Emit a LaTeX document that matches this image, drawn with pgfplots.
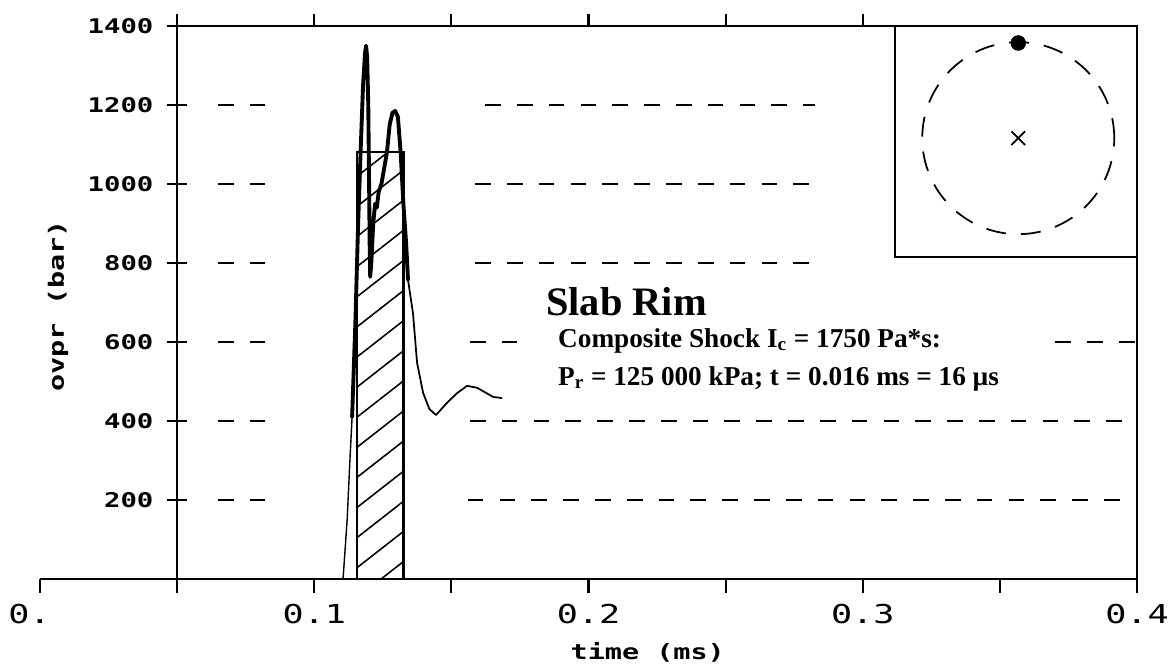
\documentclass[border=0pt]{standalone}
\usepackage{fontspec}
\setmainfont{Liberation Serif}
\newfontfamily\dotfont[FakeStretch=1.35]{DejaVu Sans Mono}
\usepackage{pgfplots}
\pgfplotsset{compat=1.18}
\usetikzlibrary{patterns.meta}

% 1 px of the reference = 0.02cm
\begin{document}
\begin{tikzpicture}
\useasboundingbox (-0.8,-1.74) rectangle (22.7,11.58);

% bottom time axis, 0 .. 0.4
\begin{axis}[
  at={(0,0)}, anchor=south west, scale only axis,
  width=21.94cm, height=11.06cm,
  xmin=0, xmax=0.4, ymin=0, ymax=1400,
  axis x line*=bottom, axis y line=none,
  axis line style={-, line width=1.5pt},
  xtick={0,0.05,0.1,0.15,0.2,0.25,0.3,0.35,0.4},
  xticklabels={0.\phantom{0},,0.1,,0.2,,0.3,,0.4},
  tick align=outside, major tick length=0.28cm,
  tick style={line width=1.2pt, black},
  xticklabel style={font=\dotfont\fontsize{14.8}{15}\selectfont, yshift=-0.1cm},
  xlabel={time (ms)},
  xlabel style={font=\dotfont\bfseries\fontsize{12}{12}\selectfont,
    at={(axis description cs:0.554,0)}, anchor=center, yshift=-1.46cm},
]
\end{axis}

% top ticks
\begin{axis}[
  at={(2.7425cm,0)}, anchor=south west, scale only axis,
  width=19.1975cm, height=11.06cm,
  xmin=0.05, xmax=0.4, ymin=0, ymax=1400,
  axis x line*=top, axis y line=none,
  axis line style={-, line width=1.5pt},
  xtick={0.05,0.1,0.15,0.2,0.25,0.3}, xticklabels={},
  tick align=outside, major tick length=0.24cm,
  tick style={line width=1.2pt, black},
]
\end{axis}

% frame, pressure axis and data
\begin{axis}[
  at={(2.7425cm,0)}, anchor=south west, scale only axis,
  width=19.1975cm, height=11.06cm,
  xmin=0.05, xmax=0.4, ymin=0, ymax=1400,
  clip=false,
  axis line style={line width=1.5pt},
  xtick=\empty,
  ytick={200,400,600,800,1000,1200,1400}, ytick pos=left,
  major tick length=0pt,
  yticklabel style={font=\dotfont\bfseries\fontsize{11.5}{12}\selectfont, anchor=east, xshift=-0.35cm,
    /pgf/number format/1000 sep={}, /pgf/number format/assume math mode=true},
  ylabel={ovpr (bar)},
  ylabel style={font=\dotfont\bfseries\fontsize{12}{12}\selectfont,
    at={(axis description cs:-0.124,0.494)}, anchor=center},
]
% crossing tick marks on the pressure axis
\draw[line width=1.2pt] ([xshift=-0.2cm]axis cs:0.05,200) -- ([xshift=0.2cm]axis cs:0.05,200);
\draw[line width=1.2pt] ([xshift=-0.2cm]axis cs:0.05,400) -- ([xshift=0.2cm]axis cs:0.05,400);
\draw[line width=1.2pt] ([xshift=-0.2cm]axis cs:0.05,600) -- ([xshift=0.2cm]axis cs:0.05,600);
\draw[line width=1.2pt] ([xshift=-0.2cm]axis cs:0.05,800) -- ([xshift=0.2cm]axis cs:0.05,800);
\draw[line width=1.2pt] ([xshift=-0.2cm]axis cs:0.05,1000) -- ([xshift=0.2cm]axis cs:0.05,1000);
\draw[line width=1.2pt] ([xshift=-0.2cm]axis cs:0.05,1200) -- ([xshift=0.2cm]axis cs:0.05,1200);
\draw[line width=1.2pt] ([xshift=-0.2cm]axis cs:0.05,1400) -- ([xshift=0.2cm]axis cs:0.05,1400);

% dashed level lines
\addplot[black, line width=1.3pt, dash pattern=on 8.9pt off 9.2pt] coordinates {(0.0649,1200)(0.0839,1200)};
\addplot[black, line width=1.3pt, dash pattern=on 8.9pt off 9.2pt] coordinates {(0.0649,1000)(0.0839,1000)};
\addplot[black, line width=1.3pt, dash pattern=on 8.9pt off 9.2pt] coordinates {(0.0649,800)(0.0839,800)};
\addplot[black, line width=1.3pt, dash pattern=on 8.9pt off 9.2pt] coordinates {(0.0649,600)(0.0839,600)};
\addplot[black, line width=1.3pt, dash pattern=on 8.9pt off 9.2pt] coordinates {(0.0649,400)(0.0839,400)};
\addplot[black, line width=1.3pt, dash pattern=on 8.9pt off 9.2pt] coordinates {(0.0649,200)(0.0839,200)};
\addplot[black, line width=1.3pt, dash pattern=on 8.9pt off 9.2pt] coordinates {(0.1623,1200)(0.2826,1200)};
\addplot[black, line width=1.3pt, dash pattern=on 8.9pt off 9.2pt] coordinates {(0.1587,1000)(0.2826,1000)};
\addplot[black, line width=1.3pt, dash pattern=on 8.9pt off 9.2pt] coordinates {(0.1587,800)(0.2815,800)};
\addplot[black, line width=1.3pt, dash pattern=on 8.9pt off 9.2pt] coordinates {(0.1568,600)(0.1787,600)};
\addplot[black, line width=1.3pt, dash pattern=on 8.9pt off 9.2pt] coordinates {(0.3702,600)(0.4,600)};
\addplot[black, line width=1.3pt, dash pattern=on 8.9pt off 9.2pt] coordinates {(0.1568,400)(0.4,400)};
\addplot[black, line width=1.3pt, dash pattern=on 8.9pt off 9.2pt] coordinates {(0.1560,200)(0.4,200)};

% composite pulse
\addplot[black, line width=1.4pt, pattern={Lines[angle=38,distance=13.5pt,line width=0.9pt]}]
  coordinates {(0.1156,0)(0.1156,1081)(0.1325,1081)(0.1325,0)} \closedcycle;

% measured overpressure
\addplot[black, line width=0.8pt, line join=round] coordinates {
  (0.1105,0)(0.1120,150)(0.1130,300)(0.1138,410)};
\addplot[black, line width=2.2pt, line join=round, line cap=round] coordinates {
  (0.1138,410)(0.1150,650)(0.1160,900)(0.1170,1100)(0.1178,1250)(0.1185,1330)
  (0.1189,1350)(0.1193,1320)(0.1197,1200)(0.1200,1000)(0.1202,850)(0.1204,765)
  (0.1208,800)(0.1215,900)(0.1222,950)(0.1228,940)(0.1235,980)(0.1245,1000)
  (0.1255,1040)(0.1265,1080)(0.1275,1150)(0.1285,1180)(0.1295,1185)(0.1305,1170)
  (0.1315,1080)(0.1325,950)(0.1335,850)(0.1342,757)};
\addplot[black, line width=1pt, line join=round] coordinates {
  (0.1342,757)(0.1360,673)(0.1375,547)(0.1397,471)(0.1420,430)(0.1444,415)
  (0.1484,446)(0.1520,470)(0.1557,489)(0.1594,484)(0.1652,461)(0.1685,458)};

% annotation
\node[anchor=base west, font=\bfseries\fontsize{23}{24}\selectfont] at (axis cs:0.1823,668) {Slab Rim};
\node[anchor=base west, font=\bfseries\fontsize{15.5}{16}\selectfont] at (axis cs:0.1867,587)
  {Composite Shock I\textsubscript{c} = 1750 Pa*s:};
\node[anchor=base west, font=\bfseries\fontsize{15.5}{16}\selectfont] at (axis cs:0.1867,491)
  {P\textsubscript{r} = 125 000 kPa; t = 0.016 ms = 16 µs};

% inset: gauge location
\draw[line width=1.5pt] (axis cs:0.3118,1400) -- (axis cs:0.3118,815) -- (axis cs:0.4,815);
\draw[line width=1pt, dash pattern=on 0.4cm off 0.3cm] (axis cs:0.3567,1116) circle[radius=1.92cm];
\addplot[black, only marks, mark=*, mark size=4.2pt] coordinates {(0.3567,1357)};
\addplot[black, only marks, mark=x, mark size=5.5pt, line width=1pt] coordinates {(0.3567,1116)};
\end{axis}
\end{tikzpicture}
\end{document}
